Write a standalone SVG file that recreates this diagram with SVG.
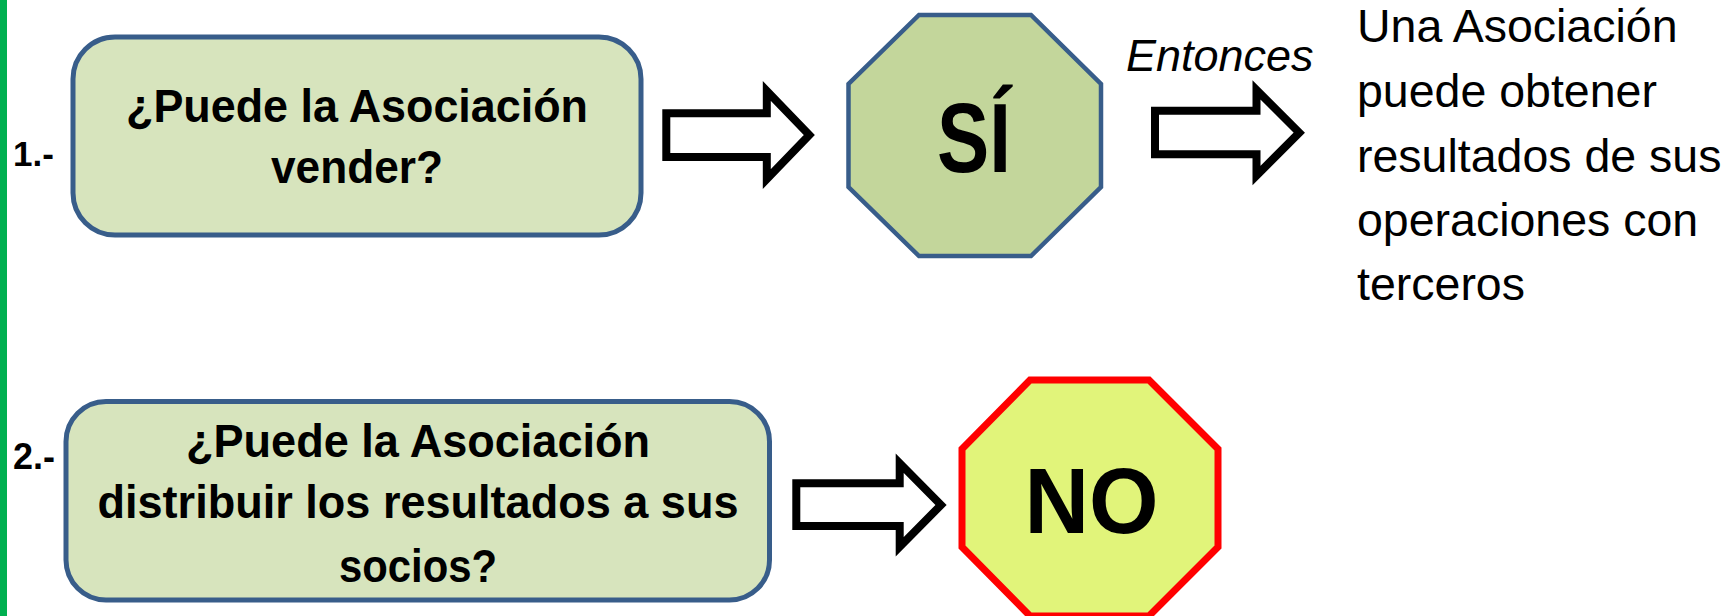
<svg xmlns="http://www.w3.org/2000/svg" width="1733" height="616" viewBox="0 0 1733 616">
<style>
.q{fill:#D7E4BD;stroke:#385D8A;stroke-width:5}
.bt{font-family:"Liberation Sans",Arial,sans-serif;font-weight:bold;fill:#000}
.rt{font-family:"Liberation Sans",Arial,sans-serif;fill:#000}
.arr{fill:#FFFFFF;stroke:#000;stroke-width:8;stroke-linejoin:miter;stroke-miterlimit:10}
</style>
<rect width="1733" height="616" fill="#FFFFFF"/>
<rect id="greenbar" x="0" y="0" width="7" height="616" fill="#00B050"/>

<g id="label1"><text class="bt" x="13" y="166" font-size="35">1.-</text></g>
<g id="label2"><text class="bt" x="13" y="469" font-size="36">2.-</text></g>

<g id="q1">
<rect class="q" x="73" y="37" width="568" height="198" rx="42" ry="42"/>
<text class="bt" font-size="46" text-anchor="middle"><tspan x="357" y="122" textLength="462" lengthAdjust="spacingAndGlyphs">¿Puede la Asociación</tspan><tspan x="357" y="182.5" textLength="172" lengthAdjust="spacingAndGlyphs">vender?</tspan></text>
</g>

<g id="si">
<polygon points="919,15 1031,15 1101,84 1101,187 1031,256 919,256 848.5,187 848.5,84" fill="#C3D69B" stroke="#385D8A" stroke-width="4.5"/>
<text class="bt" x="974" y="172.3" font-size="98" text-anchor="middle" textLength="74" lengthAdjust="spacingAndGlyphs">SÍ</text>
</g>

<g id="entonces"><text class="rt" x="1126" y="70.7" font-size="45" font-style="italic">Entonces</text></g>

<g id="result">
<text class="rt" font-size="46.5"><tspan x="1357" y="42">Una Asociación</tspan><tspan x="1357" y="107">puede obtener</tspan><tspan x="1357" y="172">resultados de sus</tspan><tspan x="1357" y="236">operaciones con</tspan><tspan x="1357" y="300">terceros</tspan></text>
</g>

<g id="q2">
<rect class="q" x="66" y="401.5" width="703.5" height="198.5" rx="40" ry="40"/>
<text class="bt" font-size="46" text-anchor="middle"><tspan x="418" y="456.7" textLength="464" lengthAdjust="spacingAndGlyphs">¿Puede la Asociación</tspan><tspan x="418" y="518.3" textLength="641" lengthAdjust="spacingAndGlyphs">distribuir los resultados a sus</tspan><tspan x="418" y="581.7" textLength="158" lengthAdjust="spacingAndGlyphs">socios?</tspan></text>
</g>

<g id="no">
<polygon points="1030,380 1149,380 1218,449 1218,547 1149,616 1030,616 962,547 962,449" fill="#E1F47A" stroke="#FF0000" stroke-width="7"/>
<text class="bt" x="1091.5" y="533.3" font-size="93" text-anchor="middle" textLength="134" lengthAdjust="spacingAndGlyphs">NO</text>
</g>

<g id="connectors">
<polygon class="arr" points="666.3,113.3 766.8,113.3 766.8,91 809.3,135 766.8,179 766.8,157 666.3,157"/>
<polygon class="arr" points="1155,110.7 1256.5,110.7 1256.5,90 1299.3,132.7 1256.5,175.5 1256.5,154.3 1155,154.3"/>
<polygon class="arr" points="796.3,483.3 899.7,483.3 899.7,463.3 941,505 899.7,546.7 899.7,526 796.3,526"/>
</g>
</svg>
